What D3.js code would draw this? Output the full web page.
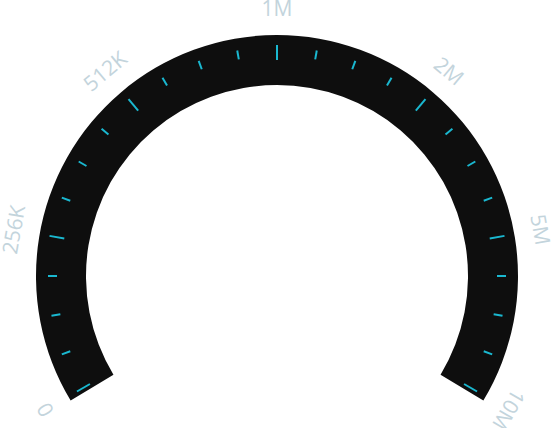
<!DOCTYPE html>
<html><head><meta charset="utf-8">
<script src="https://cdn.jsdelivr.net/npm/d3@7"></script>
<style>html,body{margin:0;padding:0;background:#fff;}svg{display:block;}</style>
</head><body>
<svg id="c" width="555" height="428"></svg>
<script>
const labels = ["0","256K","512K","1M","2M","5M","10M"];
const minorPerMajor = 4;
const startDeg = -120, endDeg = 120;
const arcOverhang = 1.1;

const W = 555, H = 428, cx = 277, cy = 276;
const rOuter = 241, rInner = 191;
const svg = d3.select("#c");
const g = svg.append("g").attr("transform", `translate(${cx},${cy})`);

const angle = d3.scaleLinear().domain([0, labels.length - 1]).range([startDeg, endDeg]);
const rad = d => d * Math.PI / 180;

g.append("path")
  .attr("d", d3.arc()({innerRadius: rInner, outerRadius: rOuter,
    startAngle: rad(startDeg - arcOverhang), endAngle: rad(endDeg + arcOverhang)}))
  .attr("fill", "#0e0e0e");

const tickVals = d3.range(0, (labels.length - 1) * minorPerMajor + 1).map(i => i / minorPerMajor);
g.selectAll("line.tick").data(tickVals).enter().append("line")
  .attr("class", "tick")
  .attr("transform", d => `rotate(${angle(d)})`)
  .attr("x1", 0).attr("x2", 0)
  .attr("y1", d => Number.isInteger(d) ? -231 : -229)
  .attr("y2", d => Number.isInteger(d) ? -216 : -220)
  .attr("stroke", "#1ab8d0").attr("stroke-width", 2);

g.selectAll("text.lbl").data(labels).enter().append("text")
  .attr("class", "lbl")
  .attr("transform", (d, i) => `rotate(${angle(i)}) translate(0,-260)`)
  .attr("text-anchor", "middle")
  .attr("font-family", "'Open Sans', sans-serif")
  .attr("font-size", 21)
  .attr("fill", "#c3d4dc")
  .text(d => d);
</script>
</body></html>
